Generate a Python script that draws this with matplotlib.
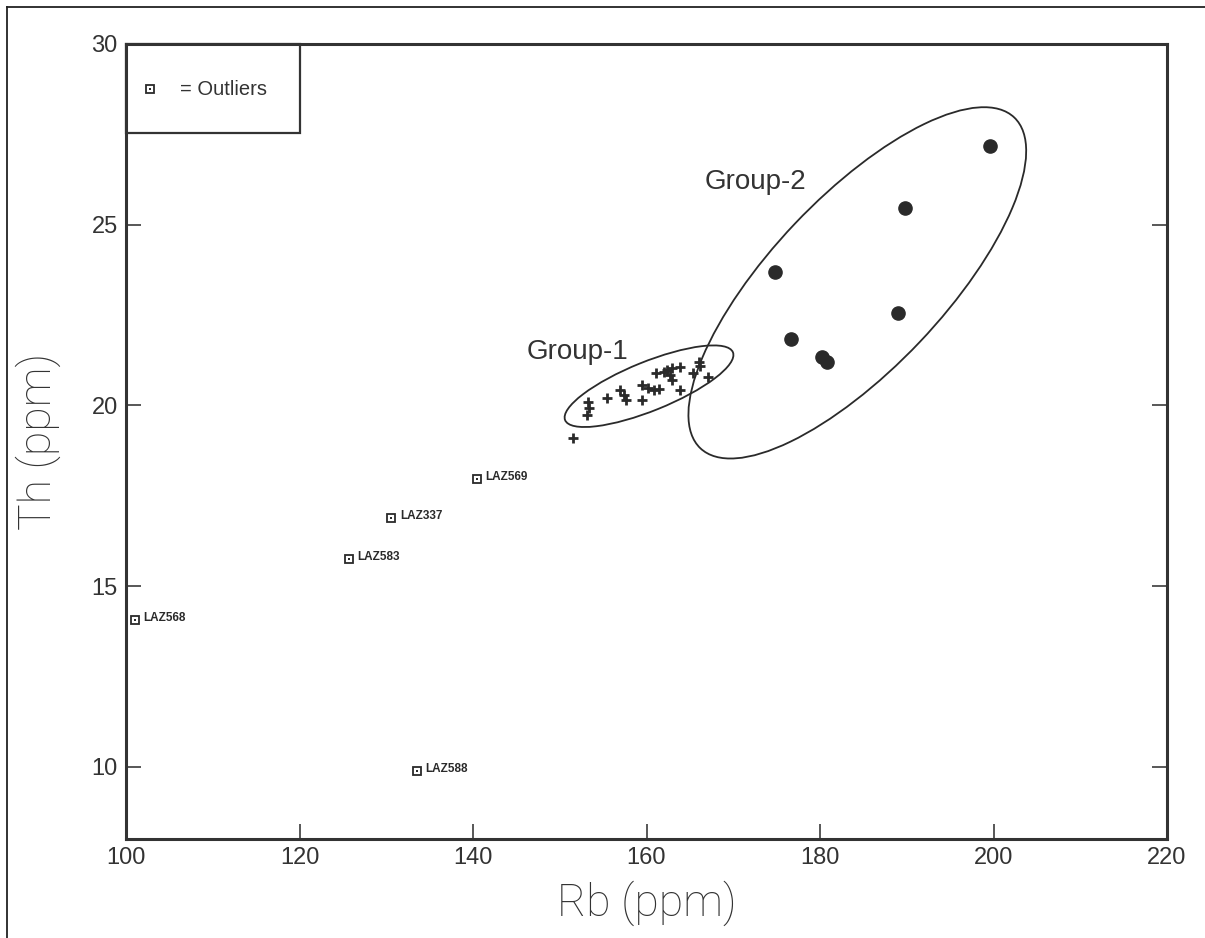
import matplotlib
matplotlib.use("Agg")
import matplotlib.pyplot as plt
from matplotlib.patches import Ellipse, Rectangle
from matplotlib.transforms import ScaledTranslation
from matplotlib.lines import Line2D
from matplotlib.ticker import FixedLocator

plt.rcParams['font.family'] = ['Liberation Sans', 'DejaVu Sans']

# ---------------- data ----------------
g1_rb = [153.3, 153.4, 153.1, 151.5, 155.4, 156.9, 157.4, 157.6, 159.5, 159.5,
         160.2, 160.9, 161.4, 161.1, 162.4, 162.9, 162.7, 162.9, 163.9, 163.9,
         165.4, 166.0, 166.2, 167.1, 162.0]
g1_th = [20.09, 19.93, 19.73, 19.10, 20.20, 20.42, 20.29, 20.15, 20.56, 20.15,
         20.48, 20.42, 20.45, 20.89, 20.98, 21.03, 20.84, 20.70, 21.06, 20.42,
         20.89, 21.20, 21.09, 20.78, 20.92]

g2_rb = [199.6, 189.8, 174.8, 189.0, 176.7, 180.2, 180.8]
g2_th = [27.18, 25.46, 23.70, 22.55, 21.84, 21.34, 21.20]

out_names = ["LAZ569", "LAZ337", "LAZ583", "LAZ568", "LAZ588"]
out_rb = [140.5, 130.6, 125.7, 101.0, 133.5]
out_th = [17.96, 16.89, 15.75, 14.06, 9.89]

x_ticks = [100, 120, 140, 160, 180, 200, 220]
y_ticks = [10, 15, 20, 25, 30]

# ---------------- figure ----------------
fig = plt.figure(figsize=(12.05, 9.38), dpi=100)
ax = fig.add_axes([126 / 1205, 1 - 839 / 938, (1167 - 126) / 1205, (839 - 44) / 938])
ax.set_xlim(100, 220)
ax.set_ylim(8, 30)

ink = '#2a2a2a'
txt = '#333333'

for s in ax.spines.values():
    s.set_linewidth(2.2)
    s.set_color('#333333')

ax.set_xticks(x_ticks)
ax.set_yticks(y_ticks)
ax.tick_params(axis='x', direction='in', length=11, width=1.1, colors=ink,
               labelsize=17, pad=6, labelcolor=txt)
ax.tick_params(axis='y', direction='in', length=11, width=1.1, colors=ink,
               labelsize=17, pad=6, labelcolor=txt, right=True)
ax.xaxis.set_minor_locator(FixedLocator([120]))
ax.tick_params(axis='x', which='minor', top=True, bottom=False, direction='in',
               length=10, width=2.4, colors=ink)

lab_font = dict(family=['Roboto', 'Liberation Sans', 'DejaVu Sans'], weight='light')
ax.set_xlabel('Rb (ppm)', fontsize=32, color=txt, labelpad=8, **lab_font)
ax.set_ylabel('Th (ppm)', fontsize=32, color=txt, labelpad=22, **lab_font)

# ---------------- ellipses ----------------
def add_ellipse(cx, cy, w_px, h_px, ang):
    tr = fig.dpi_scale_trans + ScaledTranslation(cx, cy, ax.transData)
    e = Ellipse((0, 0), w_px / 100, h_px / 100, angle=ang, transform=tr,
                fill=False, lw=1.3, ec=ink, zorder=2)
    ax.add_patch(e)

add_ellipse(160.29, 20.53, 181, 49, 22)
add_ellipse(184.3, 23.39, 456, 172, 46.5)

# ---------------- points ----------------
ax.plot(g1_rb, g1_th, linestyle='none', marker='+', ms=7.5, mew=2.0, color=ink, zorder=3)
ax.plot(g2_rb, g2_th, linestyle='none', marker='o', ms=9.5, color=ink, mec=ink, zorder=3)

ax.plot(out_rb, out_th, linestyle='none', marker='s', ms=6.3, mfc='white', mec=ink,
        mew=1.3, zorder=3)
ax.plot(out_rb, out_th, linestyle='none', marker='s', ms=1.7, mfc=ink, mec=ink,
        mew=0, zorder=4)
for n, x, y in zip(out_names, out_rb, out_th):
    ax.annotate(n, (x, y), xytext=(6, 1.5), textcoords='offset points',
                fontsize=8.5, fontweight='bold', color=ink, ha='left', va='center')

ax.text(152.1, 21.48, 'Group-1', fontsize=20, color=txt, ha='center', va='center')
ax.text(172.5, 26.18, 'Group-2', fontsize=20, color=txt, ha='center', va='center')

# ---------------- legend box ----------------
ax.add_patch(Rectangle((100, 27.54), 20, 2.46, fill=False, lw=1.6, ec='#333333',
                       zorder=5, clip_on=False))
ax.plot([102.77], [28.75], linestyle='none', marker='s', ms=6.3, mfc='white', mec=ink,
        mew=1.3, zorder=6)
ax.plot([102.77], [28.75], linestyle='none', marker='s', ms=1.7, mfc=ink, mec=ink,
        mew=0, zorder=6)
ax.text(106.2, 28.75, '= Outliers', fontsize=14.5, color=txt, ha='left', va='center')

# ---------------- page border (left & top) ----------------
fig.add_artist(Line2D([7 / 1205, 7 / 1205], [0, 1 - 7 / 938], transform=fig.transFigure,
                      color='#222222', lw=1.3))
fig.add_artist(Line2D([7 / 1205, 1], [1 - 7 / 938, 1 - 7 / 938], transform=fig.transFigure,
                      color='#222222', lw=1.3))

fig.savefig('out.png', dpi=100)
